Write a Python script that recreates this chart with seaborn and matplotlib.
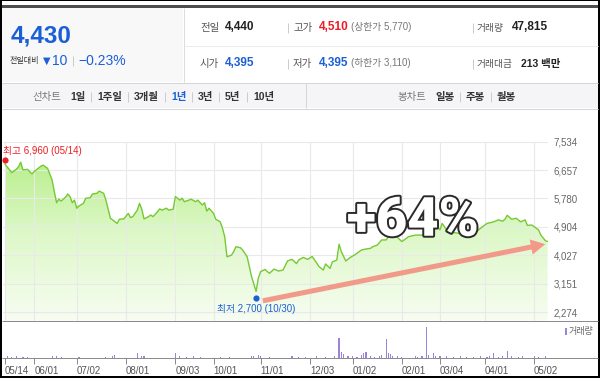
import matplotlib
matplotlib.use("Agg")
import matplotlib.pyplot as plt
import matplotlib.patheffects as pe
from matplotlib.colors import LinearSegmentedColormap
from matplotlib.patches import Rectangle
import numpy as np
import pandas as pd
import seaborn as sns

# %% data
holidays = ["2018-05-22", "2018-06-06", "2018-06-13", "2018-08-15", "2018-09-24",
            "2018-09-25", "2018-09-26", "2018-10-03", "2018-10-09", "2018-12-25",
            "2018-12-31", "2019-01-01", "2019-02-04", "2019-02-05", "2019-02-06",
            "2019-03-01", "2019-05-01", "2019-05-06"]

# closing price, by trading-day number
price_day = [0, 3, 5, 6, 7, 8, 10, 12, 13, 16, 17, 19, 21, 22, 23, 24, 25, 27, 28, 29,
             30, 31, 32, 33, 35, 36, 38, 39, 41, 42, 44, 45, 47, 48, 50, 51, 53, 55, 56, 57,
             59, 60, 61, 62, 64, 65, 66, 68, 69, 70, 72, 73, 75, 76, 78, 79, 80, 82, 83, 85,
             86, 88, 89, 90, 91, 93, 94, 96, 97, 98, 99, 101, 102, 103, 105, 106, 108, 109, 110, 112,
             113, 114, 116, 117, 118, 120, 122, 124, 126, 128, 130, 131, 133, 135, 137, 139, 140, 142, 143, 145,
             146, 148, 149, 150, 152, 154, 156, 157, 159, 161, 163, 164, 166, 168, 170, 171, 173, 175, 177, 180,
             183, 186, 189, 192, 194, 195, 197, 198, 203, 207, 210, 213, 215, 218, 220, 222, 223, 224, 226, 228,
             230, 232, 233, 235, 238, 239, 241, 242]
price_val = [6840, 6580, 6680, 6760, 6900, 6660, 6680, 6540, 6610, 6780, 6810, 6710, 6350, 5990, 5650, 5760, 5700, 5820, 5920, 5840,
             5650, 5730, 5480, 5550, 5630, 5790, 5800, 5920, 5940, 6010, 5940, 5730, 5170, 5120, 5010, 5140, 5150, 5320, 5190, 5220,
             5420, 5630, 5450, 5150, 5220, 5270, 5220, 5370, 5460, 5420, 5480, 5420, 5450, 5840, 5730, 5790, 5680, 5730, 5760, 5680,
             5730, 5580, 5650, 5390, 5480, 5320, 5140, 5060, 4860, 4600, 3980, 4030, 4140, 4290, 4260, 4190, 3980, 3670, 3360, 2910,
             3320, 3520, 3590, 3520, 3470, 3600, 3540, 3570, 3850, 3900, 3770, 3880, 3960, 3900, 3990, 3790, 3680, 3570, 3760, 3620,
             3820, 3880, 4370, 4140, 3850, 3960, 4040, 4090, 4190, 4220, 4240, 4290, 4340, 4500, 4500, 4600, 4680, 4580, 4450, 4600,
             4650, 4650, 4750, 4960, 4810, 5010, 4810, 4750, 4700, 4730, 4740, 4910, 5010, 5060, 5120, 5080, 5140, 5260, 5140, 5170,
             5060, 5120, 4950, 4960, 4810, 4650, 4480, 4450]

# volume (thousand shares), by trading-day number
vol_day = [1, 3, 5, 8, 10, 21, 23, 25, 33, 45, 48, 49, 59, 61, 62, 76, 78, 81, 84, 87,
           96, 100, 110, 111, 113, 114, 118, 128, 131, 134, 139, 143, 147, 149, 150, 151, 153, 155, 157, 159,
           160, 161, 163, 165, 167, 168, 170, 171, 172, 173, 175, 177, 183, 184, 186, 188, 189, 191, 192, 194,
           197, 200, 203, 206, 209, 212, 215, 216, 218, 220, 222, 224, 226, 229, 231, 236, 238, 241]
vol_val = [110, 90, 120, 100, 80, 110, 190, 100, 90, 100, 120, 210, 480, 200, 110, 410, 190, 100, 110, 90,
           100, 90, 110, 200, 290, 180, 100, 110, 90, 100, 110, 100, 200, 2000, 520, 400, 190, 110, 100, 300,
           480, 520, 200, 100, 190, 210, 1900, 480, 400, 200, 110, 100, 190, 100, 110, 3100, 300, 500, 200, 110,
           200, 100, 110, 90, 100, 200, 100, 110, 410, 100, 190, 620, 200, 100, 110, 180, 100, 110]

y_ticks = [2274, 3151, 4027, 4904, 5780, 6657, 7534]
high_date, high_val = "2018-05-14", 6960
low_date, low_val = "2018-10-30", 2700

# header
last_price, change, change_pct = "4,430", "10", "−0.23%"
row1 = ["전일", "4,440", "고가", "4,510", "(상한가 5,770)", "거래량", "47,815"]
row2 = ["시가", "4,395", "저가", "4,395", "(하한가 3,110)", "거래대금", "213 백만"]
line_tabs = ["1일", "1주일", "3개월", "1년", "3년", "5년", "10년"]
candle_tabs = ["일봉", "주봉", "월봉"]

# %% trading calendar
days = pd.bdate_range("2018-05-14", "2019-05-13")
days = days[~days.isin(pd.to_datetime(holidays))]
n = len(days)
month_pos = [0] + [i for i in range(1, n) if days[i].month != days[i - 1].month]
month_lab = [days[i].strftime("%m/%d") for i in month_pos]
high_idx = days.get_loc(pd.Timestamp(high_date))
low_idx = days.get_loc(pd.Timestamp(low_date))

# %% style
sns.set_theme(style="white")
plt.rcParams["font.family"] = ["Liberation Sans", "Noto Sans CJK KR", "DejaVu Sans"]
plt.rcParams["axes.unicode_minus"] = True

BLUE = "#1b5fd6"
RED = "#ee1c25"
DARK = "#222222"
GRAY = "#555555"
GREEN = "#76c934"
PURPLE = "#9a84d9"

W, H = 600, 378
fig = plt.figure(figsize=(6, 3.78), dpi=100)
fig.patch.set_facecolor("white")


def axes_px(x0, y0, x1, y1, **kw):
    return fig.add_axes([x0 / W, 1 - y1 / H, (x1 - x0) / W, (y1 - y0) / H], **kw)


# background boxes
bg = axes_px(0, 0, W, H, zorder=0)
bg.set_xlim(0, W)
bg.set_ylim(H, 0)
bg.axis("off")
bg.add_patch(Rectangle((2, 8), 181, 74, fc="#f8f8f8", ec="none"))
bg.add_patch(Rectangle((2, 83), 596, 25, fc="#f5f5f7", ec="none"))

# %% price chart
x0 = -0.9
x1 = n - 0.8
ybot = 2012
pax = axes_px(3, 141.7, 548, 320.5, zorder=1)
pax.patch.set_alpha(0)

poly = pax.fill_between(price_day, price_val, ybot, facecolor="none", edgecolor="none")
cmap = LinearSegmentedColormap.from_list("g", ["#f7fdf2", "#ddf8c7", "#b0ec7e"])
grad = np.linspace(0, 1, 256).reshape(-1, 1)
im = pax.imshow(grad, aspect="auto", cmap=cmap, origin="lower",
                extent=[x0, x1, ybot, y_ticks[-1]], zorder=1)
im.set_clip_path(poly.get_paths()[0], transform=pax.transData)

sns.lineplot(x=price_day, y=price_val, ax=pax, color=GREEN, linewidth=1.0, zorder=3)

pax.set_xlim(x0, x1)
pax.set_ylim(ybot, y_ticks[-1])
pax.set_xticks(month_pos)
pax.set_yticks(y_ticks, [f"{v:,}" for v in y_ticks])
pax.grid(True, color="#e9e9e9", linewidth=0.8)
pax.set_axisbelow(False)
pax.yaxis.tick_right()
pax.tick_params(axis="y", length=0, pad=4, labelsize=7, labelcolor="#666666", right=True)
pax.tick_params(axis="x", length=0, labelbottom=False)
pax.set_xlabel("")
pax.set_ylabel("")
for s in pax.spines.values():
    s.set_visible(False)

# high / low markers
pax.scatter([high_idx], [high_val], s=20, color=RED, zorder=5, clip_on=False, linewidths=0)
pax.annotate(f"최고 {high_val:,} ({high_date[5:7]}/{high_date[8:]})", (high_idx, high_val),
             xytext=(-1.5, 6.5), textcoords="offset points", ha="left", va="center",
             fontsize=7, color=RED)
pax.scatter([low_idx], [low_val], s=20, color=BLUE, zorder=5, clip_on=False, linewidths=0)
pax.annotate(f"최저 {low_val:,} ({low_date[5:7]}/{low_date[8:]})", (low_idx, low_val),
             xytext=(0, -7.5), textcoords="offset points", ha="center", va="center",
             fontsize=7, color=BLUE)

# trend arrow and gain
pax.annotate("", xy=(n - 2, 4370), xytext=(low_idx + 3, 2620),
             arrowprops=dict(arrowstyle="simple,head_length=0.8,head_width=0.85,tail_width=0.28",
                             mutation_scale=13, color="#f29a8a", lw=0, shrinkA=0, shrinkB=0),
             zorder=4)
pct = round((4430 / low_val - 1) * 100)
pax.text(0.752, 0.555, f"+{pct}%", transform=pax.transAxes, ha="center", va="center",
         fontsize=39, fontweight="heavy", family=["Roboto", "DejaVu Sans"], color="white",
         zorder=6, path_effects=[pe.withStroke(linewidth=2.8, foreground="#2a2a2a")])

# %% volume
vax = axes_px(3, 321, 548, 357.5, zorder=1)
vax.patch.set_alpha(0)
vax.bar(vol_day, vol_val, width=0.5, color=PURPLE, linewidth=0)
vax.set_xlim(x0, x1)
vax.set_ylim(0, 3650)
vax.set_yticks([])
vax.set_xticks(month_pos, month_lab)
vax.tick_params(axis="x", bottom=True, length=4, width=0.7, color="#888888",
                labelsize=7, labelcolor=GRAY, pad=2)
for lbl in vax.get_xticklabels():
    lbl.set_horizontalalignment("left")
for s in vax.spines.values():
    s.set_visible(False)

# %% overlay: frame, separators, header text
top = axes_px(0, 0, W, H, zorder=10)
top.set_xlim(0, W)
top.set_ylim(H, 0)
top.axis("off")


def hline(y, xa, xb, c, lw=0.72):
    top.plot([xa, xb], [y, y], color=c, lw=lw, solid_capstyle="butt")


def vline(x, ya, yb, c, lw=0.72):
    top.plot([x, x], [ya, yb], color=c, lw=lw, solid_capstyle="butt")


top.add_patch(Rectangle((2, 5), 596, 2.5, fc="#4d4d4d", ec="none"))
vline(183.5, 8, 82, "#dcdcdc")
hline(45.5, 184, 598, "#ececec")
hline(82.5, 2, 598, "#d5d5d5")
hline(108.5, 2, 598, "#d5d5d5")
vline(305.5, 83, 108, "#d5d5d5")
hline(320.5, 2, 598, "#8c8c8c")
hline(357.5, 2, 598, "#8c8c8c")
for r in [(0, 0, 600, 1), (0, 0, 2, 378), (598, 0, 2, 378), (0, 376, 600, 2)]:
    top.add_patch(Rectangle(r[:2], r[2], r[3], fc="black", ec="none"))

# current price block
top.text(11, 36.5, last_price, fontsize=17.5, fontweight="bold", color=BLUE, va="center")
top.text(9.5, 61, "전일대비", fontsize=5.8, color="#333333", va="center")
top.text(43, 61, "▼", fontsize=7, color=BLUE, va="center", family=["DejaVu Sans"])
top.text(52, 61, change, fontsize=10, color=BLUE, va="center")
vline(72.5, 56, 66, "#cccccc")
top.text(78, 61, change_pct, fontsize=10, color=BLUE, va="center")

# info rows
xs = [200, 225, 293, 319, 351, 477, 512]
for row, y, vcol in [(row1, 27.5, [DARK, RED]), (row2, 63.5, [BLUE, BLUE])]:
    top.text(xs[0], y, row[0], fontsize=7.5, color=GRAY, va="center")
    top.text(xs[1], y, row[1], fontsize=8.5, fontweight="bold", color=vcol[0], va="center")
    top.text(xs[2], y, row[2], fontsize=7.5, color=GRAY, va="center")
    top.text(xs[3], y, row[3], fontsize=8.5, fontweight="bold", color=vcol[1], va="center")
    top.text(xs[4], y, row[4], fontsize=7, color="#777777", va="center")
    top.text(xs[5], y, row[5], fontsize=7, color=GRAY, va="center")
    big = row is row1
    top.text(xs[6] if big else 521, y, row[6], fontsize=8.5 if big else 7.5,
             fontweight="bold", color=DARK, va="center")
    vline(287.5, y - 5, y + 5, "#cccccc")
    vline(472.5, y - 5, y + 5, "#cccccc")

# tabs
top.text(32, 97, "선차트", fontsize=7.5, color="#777777", va="center")
tab_x = [70, 97, 134, 171, 198, 225, 253]
for i, (t, x) in enumerate(zip(line_tabs, tab_x)):
    top.text(x, 97, t, fontsize=7.5, fontweight="bold",
             color=BLUE if t == "1년" else "#333333", va="center")
    if i:
        vline(x - 6.5, 92, 102, "#cccccc")
top.text(397, 97, "봉차트", fontsize=7.5, color="#777777", va="center")
for i, (t, x) in enumerate(zip(candle_tabs, [435, 466, 497])):
    top.text(x, 97, t, fontsize=7.5, fontweight="bold", color="#333333", va="center")
    if i:
        vline(x - 6.5, 92, 102, "#cccccc")

# volume legend
top.add_patch(Rectangle((565, 328), 2, 7, fc=PURPLE, ec="none"))
top.text(569, 331.5, "거래량", fontsize=6.5, color="#666666", va="center")

fig.savefig("out.png", dpi=100)
